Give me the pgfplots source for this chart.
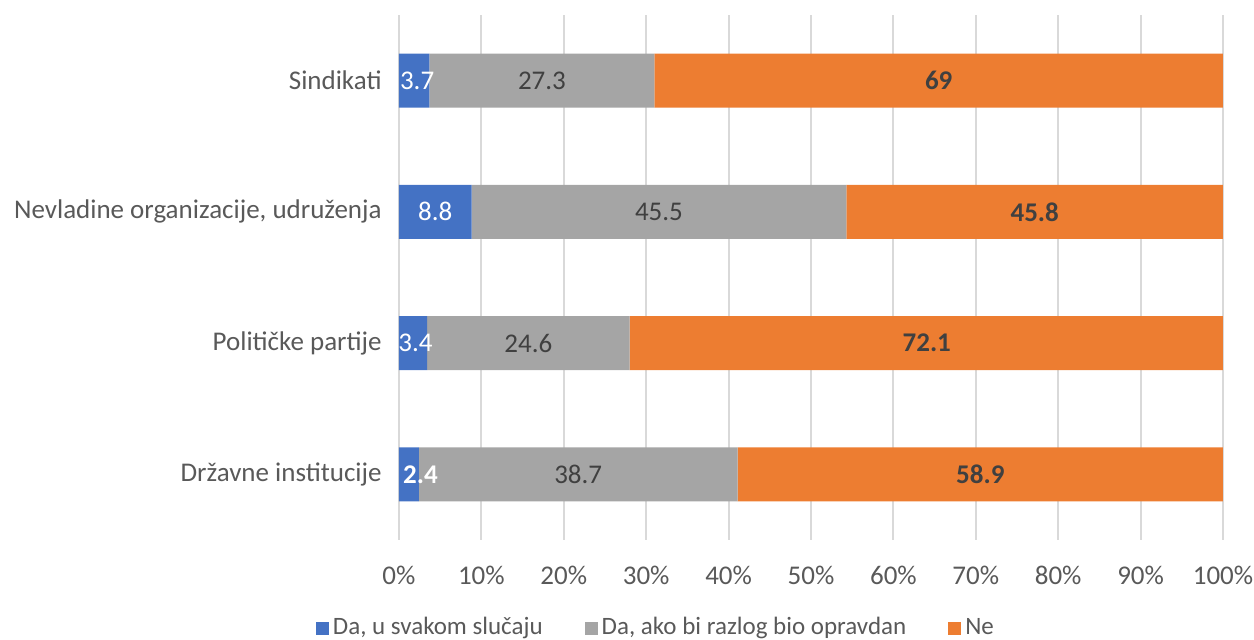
\documentclass[border=0pt]{standalone}
\usepackage{pgfplots}
\pgfplotsset{compat=1.18}
\usepackage{fontspec}
\setmainfont{Carlito}
\definecolor{cblue}{HTML}{4472C4}
\definecolor{cgray}{HTML}{A5A5A5}
\definecolor{corange}{HTML}{ED7D31}
\definecolor{ctext}{HTML}{595959}
\definecolor{clab}{HTML}{404040}
\definecolor{cgrid}{HTML}{D9D9D9}
\begin{document}
\fontsize{13.5}{16}\selectfont
\begin{tikzpicture}
\pgfplotsset{
  common/.style={width=412pt, height=262.5pt, scale only axis,
    xmin=0, xmax=100, ymin=-0.5, ymax=3.5}
}
\begin{axis}[common,
  xbar stacked, bar width=0.41,
  ytick={0,1,2,3},
  yticklabels={Državne institucije, Političke partije, {Nevladine organizacije, udruženja}, Sindikati},
  xtick={0,10,...,100},
  xticklabel={\pgfmathprintnumber{\tick}\%},
  /pgf/number format/assume math mode=true,
  xmajorgrids, ymajorgrids=false,
  major grid style={cgrid, line width=1pt},
  axis line style={draw=none},
  major tick length=0pt,
  tick label style={text=ctext, font=\fontsize{13.5}{16}\selectfont},
  xticklabel style={yshift=-8.5pt},
  yticklabel style={xshift=-4pt},
  legend style={at={(0.313,-0.168)}, anchor=center, legend columns=3,
    draw=none, fill=none, font=\fontsize{12.5}{15}\selectfont, text=ctext,
    /tikz/every even column/.append style={column sep=19pt}},
  legend image code/.code={\fill[#1,draw=none] (0pt,-3.25pt) rectangle (6.5pt,3.25pt);},
]
\addplot[fill=cblue, draw=none] coordinates {(2.4,0) (3.4,1) (8.8,2) (3.7,3)};
\addplot[fill=cgray, draw=none] coordinates {(38.7,0) (24.6,1) (45.5,2) (27.3,3)};
\addplot[fill=corange, draw=none] coordinates {(58.9,0) (72.1,1) (45.8,2) (69,3)};
\legend{{Da, u svakom slučaju}, {Da, ako bi razlog bio opravdan}, Ne}
\coordinate (ll) at (rel axis cs:0,0);
\coordinate (ur) at (rel axis cs:1,1);
\end{axis}
\begin{axis}[common, hide axis, point meta=explicit symbolic,
  nodes near coords, nodes near coords align={center}]
\addplot[only marks, mark=none, nodes near coords style={text=white, font=\fontsize{13.5}{16}\selectfont}]
  coordinates {(2.6,0) [\textbf{2.4}] (2.0,1) [3.4] (4.4,2) [8.8] (2.2,3) [3.7]};
\addplot[only marks, mark=none, nodes near coords style={text=clab, font=\fontsize{13.5}{16}\selectfont}]
  coordinates {(21.75,0) [38.7] (15.7,1) [24.6] (31.55,2) [45.5] (17.35,3) [27.3]};
\addplot[only marks, mark=none, nodes near coords style={text=clab, font=\fontsize{13.5}{16}\selectfont\bfseries}]
  coordinates {(70.55,0) [58.9] (64.05,1) [72.1] (77.15,2) [45.8] (65.5,3) [69]};
\end{axis}
\pgfresetboundingbox
\path ([shift={(-199.5pt,-50pt)}]ll) rectangle ([shift={(15.5pt,7.5pt)}]ur);
\end{tikzpicture}
\end{document}
